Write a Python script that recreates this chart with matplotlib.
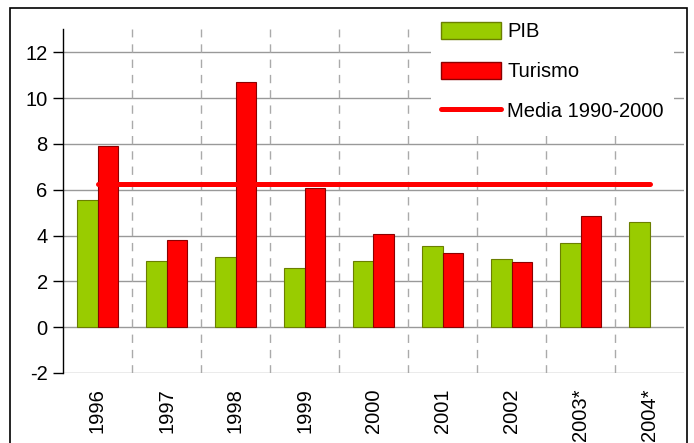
import matplotlib
matplotlib.use("Agg")
import matplotlib.pyplot as plt
from matplotlib.patches import Rectangle
from matplotlib.lines import Line2D
from matplotlib.patches import Patch
import numpy as np

FS = 14.5
plt.rcParams['font.family'] = ['Liberation Sans', 'DejaVu Sans']
plt.rcParams['axes.unicode_minus'] = False

years = ["1996", "1997", "1998", "1999", "2000", "2001", "2002", "2003*", "2004*"]
pib = [5.53, 2.87, 3.07, 2.59, 2.90, 3.54, 2.97, 3.68, 4.60]
turismo = [7.90, 3.81, 10.72, 6.07, 4.07, 3.22, 2.84, 4.84, None]
media = 6.25

fig = plt.figure(figsize=(6.94, 4.43), dpi=100)
ax = fig.add_axes([63/694, 1-373/443, (684-63)/694, (373-29.3)/443])

x = np.arange(len(years))
w = 0.29
green = '#99cc00'
red = '#ff0000'
ax.bar(x - w/2, pib, w, color=green, edgecolor='#6b7f00', linewidth=0.8, zorder=3)
tx = [xi for xi, v in zip(x, turismo) if v is not None]
tv = [v for v in turismo if v is not None]
ax.bar(np.array(tx) + w/2, tv, w, color=red, edgecolor='#8b0000', linewidth=0.8, zorder=3)
ax.plot([x[0], x[-1]], [media, media], color=red, lw=3.6, solid_capstyle='round', zorder=4)

ax.set_xlim(-0.5, len(years) - 0.5)
ax.set_ylim(-2, 13)
ax.set_yticks(np.arange(-2, 13, 2))
ax.set_xticks(x)
ax.set_xticklabels(years, rotation=90, fontsize=FS)
ax.tick_params(axis='y', labelsize=FS, direction='out', length=7, width=1, pad=4)
ax.tick_params(axis='x', length=0, pad=11)

for yv in np.arange(-2, 13, 2):
    ax.axhline(yv, color='#999999', lw=1, zorder=1)
for b in np.arange(0.5, len(years) - 0.5, 1):
    ax.axvline(b, color='#aaaaaa', lw=1, ls=(0, (6, 5)), zorder=1)

for s in ['top', 'right', 'bottom']:
    ax.spines[s].set_visible(False)
ax.spines['left'].set_color('black')
ax.spines['left'].set_linewidth(1)

handles = [Patch(facecolor=green, edgecolor='#6b7f00', label='PIB'),
           Patch(facecolor=red, edgecolor='#8b0000', label='Turismo'),
           Line2D([0], [0], color=red, lw=3.6, solid_capstyle='round', label='Media 1990-2000')]
leg = ax.legend(handles=handles, loc='upper right', bbox_to_anchor=(684/694, 1-2/443),
                bbox_transform=fig.transFigure, frameon=True, fontsize=FS,
                handlelength=3.0, handleheight=0.9, labelspacing=1.02, handletextpad=0.3,
                borderpad=0.5, fancybox=False)
leg.get_frame().set_edgecolor('none')
leg.get_frame().set_facecolor('white')
leg.get_frame().set_alpha(1)
leg.set_zorder(10)

fig.patches.append(Rectangle((10/694, -0.05), (687-10)/694, 1.05 - 8/443,
                             transform=fig.transFigure, fill=False, edgecolor='black', lw=1.2))

fig.savefig('out.png', dpi=100)
